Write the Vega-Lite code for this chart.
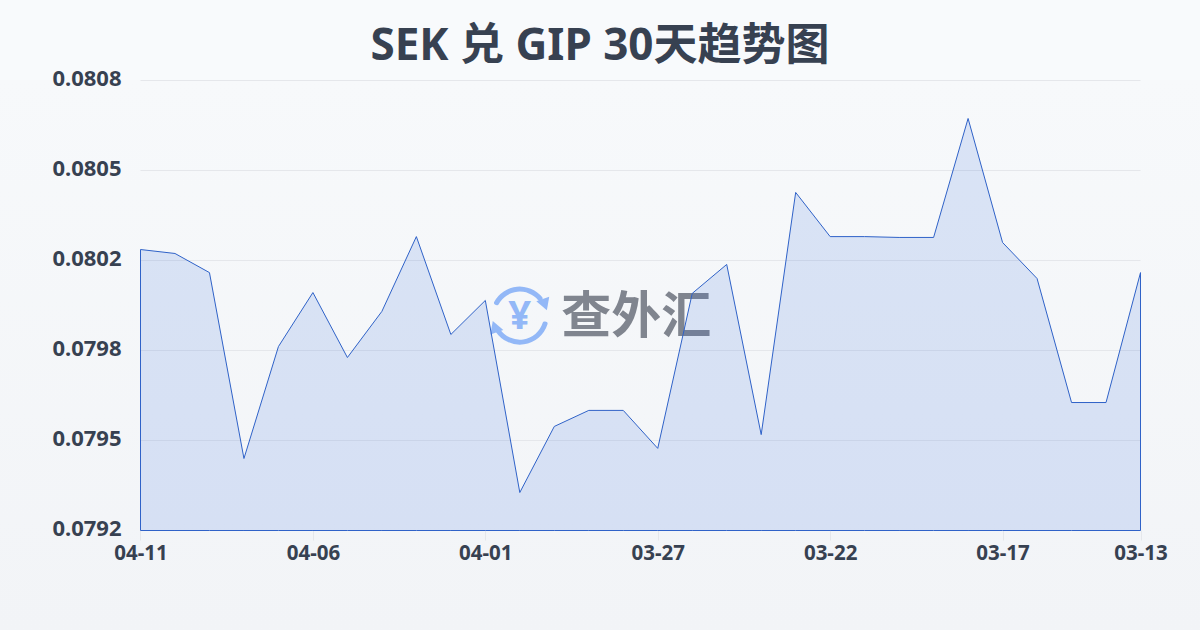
{"$schema":"https://vega.github.io/schema/vega-lite/v6.json","width":1200,"height":550,"padding":{"top":80,"left":0,"right":0,"bottom":0},"autosize":{"type":"none"},"background":"#f8fafc","view":{"stroke":null,"fill":{"gradient":"linear","x1":0,"y1":0,"x2":0,"y2":1,"stops":[{"offset":0,"color":"#f7f9fb"},{"offset":1,"color":"#f2f4f7"}]}},"config":{"axis":{"domain":false,"ticks":false,"grid":false,"title":null,"labelColor":"#374151","labelFont":"Noto Sans","labelFontWeight":"bold"}},"title":{"text":"SEK 兑 GIP 30天趋势图","font":"Noto Sans, Noto Sans CJK SC","fontSize":44,"fontWeight":"bold","color":"#374151","anchor":"middle","frame":"group","offset":-1},"data":{"values":[{"date":"04-11","rate":0.080199},{"date":"04-10","rate":0.080185},{"date":"04-09","rate":0.080117},{"date":"04-08","rate":0.079456},{"date":"04-07","rate":0.079854},{"date":"04-06","rate":0.080046},{"date":"04-05","rate":0.079815},{"date":"04-04","rate":0.079979},{"date":"04-03","rate":0.080245},{"date":"04-02","rate":0.079897},{"date":"04-01","rate":0.080018},{"date":"03-31","rate":0.079335},{"date":"03-30","rate":0.07957},{"date":"03-29","rate":0.079627},{"date":"03-28","rate":0.079627},{"date":"03-27","rate":0.079492},{"date":"03-26","rate":0.080043},{"date":"03-25","rate":0.080146},{"date":"03-24","rate":0.079541},{"date":"03-23","rate":0.080402},{"date":"03-22","rate":0.080245},{"date":"03-21","rate":0.080245},{"date":"03-20","rate":0.080242},{"date":"03-19","rate":0.080242},{"date":"03-18","rate":0.080665},{"date":"03-17","rate":0.080224},{"date":"03-16","rate":0.080096},{"date":"03-15","rate":0.079655},{"date":"03-14","rate":0.079655},{"date":"03-13","rate":0.080117}]},"encoding":{"x":{"field":"date","type":"ordinal","sort":null,"title":null,"scale":{"type":"point","padding":0,"range":[140.5,1140.5],"domain":["04-11","04-10","04-09","04-08","04-07","04-06","04-05","04-04","04-03","04-02","04-01","03-31","03-30","03-29","03-28","03-27","03-26","03-25","03-24","03-23","03-22","03-21","03-20","03-19","03-18","03-17","03-16","03-15","03-14","03-13"]},"axis":{"values":["04-11","04-06","04-01","03-27","03-22","03-17","03-13"],"labelAngle":0,"offset":-100,"ticks":true,"tickSize":10,"tickColor":"#e5e7eb","labelPadding":3,"labelFontSize":20.5}},"y":{"field":"rate","type":"quantitative","title":null,"scale":{"domain":[0.0792,0.0808],"range":[450.5,0.5],"nice":false,"zero":false},"axis":{"values":[0.0792,0.07952,0.07984,0.08016,0.08048,0.0808],"format":".4f","offset":-140,"labelPadding":19,"labelOffset":-2,"labelFontSize":22}}},"layer":[{"data":{"values":[{"tick":0.0792},{"tick":0.07952},{"tick":0.07984},{"tick":0.08016},{"tick":0.08048},{"tick":0.0808}]},"mark":{"type":"rule","color":"#e5e7eb","strokeWidth":1},"encoding":{"y":{"field":"tick","type":"quantitative","title":null},"x":{"datum":"04-11","title":null},"x2":{"datum":"03-13"}}},{"mark":{"type":"text","text":"查外汇","font":"Noto Sans CJK SC","fontSize":50,"fontWeight":"bold","color":"#80858f","align":"center","baseline":"middle","xOffset":13,"yOffset":2},"encoding":{"x":{"datum":"03-28","title":null},"y":{"datum":0.079964,"title":null}},"transform":[{"filter":"datum.date=='04-11'"}]},{"mark":{"type":"text","text":"¥","font":"Noto Sans","fontSize":40,"fontWeight":"bold","color":"#93b8f7","align":"center","baseline":"middle","yOffset":1},"encoding":{"x":{"datum":"03-31","title":null},"y":{"datum":0.079964,"title":null}},"transform":[{"filter":"datum.date=='04-11'"}]},{"mark":{"type":"arc","radius":29,"radius2":24,"theta":-1.15,"theta2":0.95,"cornerRadius":2,"color":"#93b8f7"},"encoding":{"x":{"datum":"03-31","title":null},"y":{"datum":0.079964,"title":null}},"transform":[{"filter":"datum.date=='04-11'"}]},{"mark":{"type":"arc","radius":29,"radius2":24,"theta":1.8,"theta2":4.2,"cornerRadius":2,"color":"#93b8f7"},"encoding":{"x":{"datum":"03-31","title":null},"y":{"datum":0.079964,"title":null}},"transform":[{"filter":"datum.date=='04-11'"}]},{"mark":{"type":"point","shape":"triangle-down","filled":true,"size":190,"opacity":1,"color":"#93b8f7","xOffset":25,"yOffset":-11,"angle":-20},"encoding":{"x":{"datum":"03-31","title":null},"y":{"datum":0.079964,"title":null}},"transform":[{"filter":"datum.date=='04-11'"}]},{"mark":{"type":"point","shape":"triangle-up","filled":true,"size":190,"opacity":1,"color":"#93b8f7","xOffset":-25,"yOffset":11,"angle":-20},"encoding":{"x":{"datum":"03-31","title":null},"y":{"datum":0.079964,"title":null}},"transform":[{"filter":"datum.date=='04-11'"}]},{"mark":{"type":"area","color":"#2a60dc","fillOpacity":0.14,"stroke":"#2f62c8","strokeWidth":1,"opacity":1,"interpolate":"linear"},"encoding":{"y":{"field":"rate","type":"quantitative","title":null},"y2":{"datum":0.0792}}}]}
